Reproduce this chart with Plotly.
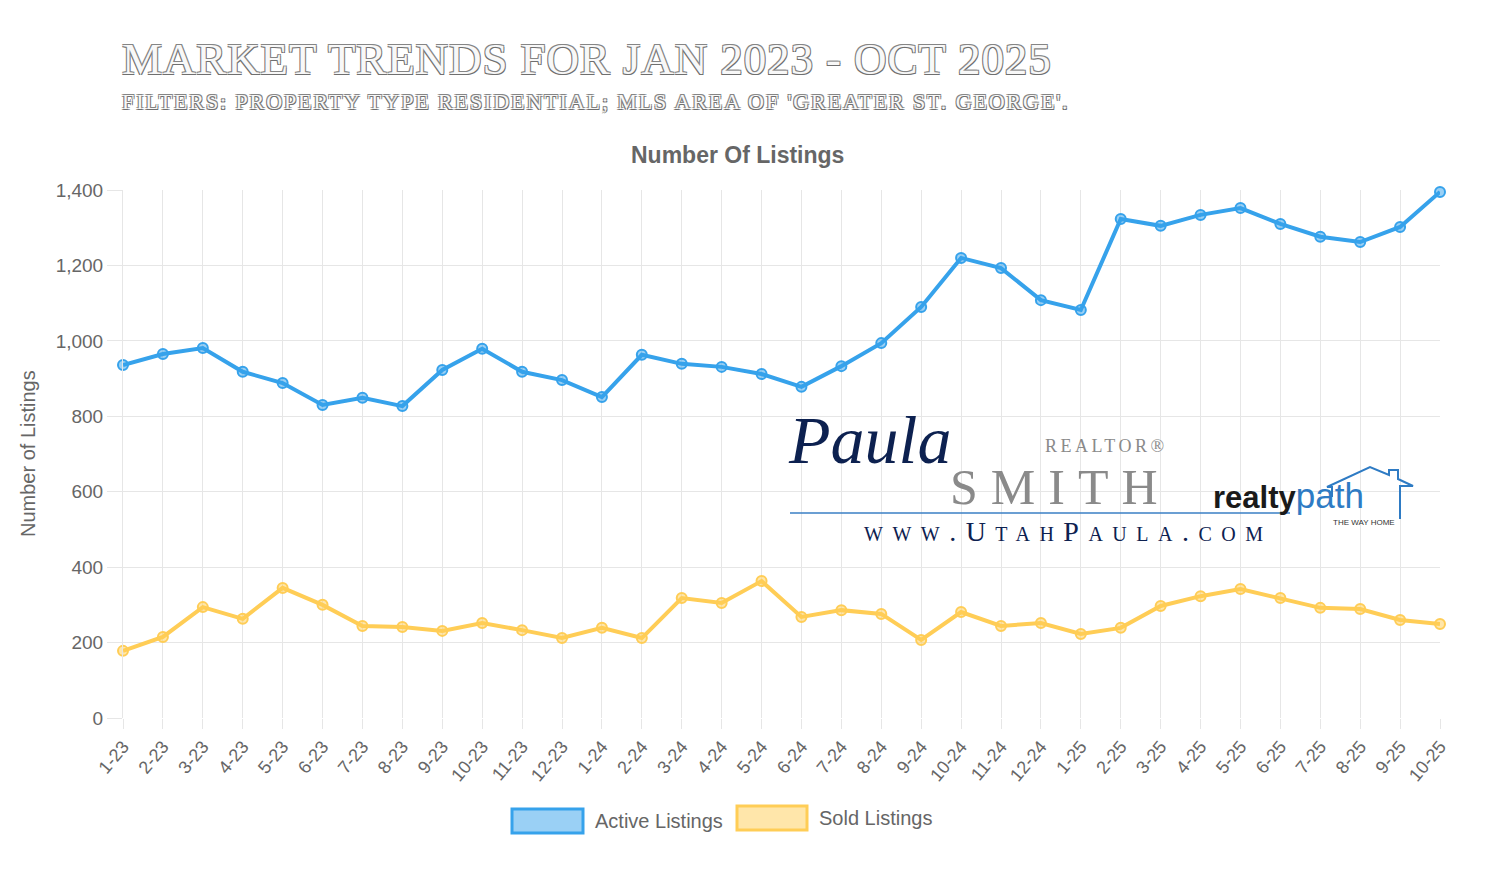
import plotly.graph_objects as go

months = ["1-23", "2-23", "3-23", "4-23", "5-23", "6-23", "7-23", "8-23", "9-23", "10-23",
          "11-23", "12-23", "1-24", "2-24", "3-24", "4-24", "5-24", "6-24", "7-24", "8-24",
          "9-24", "10-24", "11-24", "12-24", "1-25", "2-25", "3-25", "4-25", "5-25", "6-25",
          "7-25", "8-25", "9-25", "10-25"]

active_listings = [936, 965, 981, 918, 888, 830, 849, 827, 923, 979,
                   918, 896, 851, 963, 939, 931, 912, 878, 933, 994,
                   1090, 1220, 1193, 1108, 1082, 1323, 1305, 1334, 1352, 1310,
                   1276, 1262, 1302, 1395]

sold_listings = [178, 215, 294, 263, 345, 300, 244, 241, 231, 252,
                 233, 212, 239, 212, 318, 305, 363, 268, 286, 276,
                 207, 281, 244, 252, 223, 239, 297, 323, 342, 318,
                 292, 289, 260, 249]

y_ticks = [0, 200, 400, 600, 800, 1000, 1200, 1400]

BLUE = "rgb(54,162,235)"
BLUE_FILL = "rgba(54,162,235,0.5)"
YELLOW = "rgb(255,205,86)"
YELLOW_FILL = "rgba(255,205,86,0.5)"
GRID = "#e6e6e6"
TXT = "#666666"
NAVY = "#0d2150"
LOGO_BLUE = "#2e7bc4"

W, H = 1512, 869
L, R, T, B = 123, 1440, 190, 718


def px(x):
    return (x - L) / (R - L)


def py(y):
    return (B - y) / (B - T)


def spaced(text, px_spacing):
    return f"<span style='letter-spacing:{px_spacing}px'>{text}</span>"


fig = go.Figure()
fig.add_trace(go.Scatter(
    x=months, y=active_listings, name="Active Listings", mode="lines+markers",
    line=dict(color=BLUE, width=4),
    marker=dict(size=10, color=BLUE_FILL, line=dict(color=BLUE, width=2)),
    cliponaxis=False, showlegend=False))
fig.add_trace(go.Scatter(
    x=months, y=sold_listings, name="Sold Listings", mode="lines+markers",
    line=dict(color=YELLOW, width=4),
    marker=dict(size=10, color=YELLOW_FILL, line=dict(color=YELLOW, width=2)),
    cliponaxis=False, showlegend=False))

outline = "-1px -1px 0 #858585, 1px -1px 0 #858585, -1px 1px 0 #6f6f6f, 1px 1px 0 #6f6f6f"

ann = [
    dict(text=spaced("MARKET TRENDS FOR JAN 2023 - OCT 2025", 0.9), x=px(120), y=py(59),
         xanchor="left", yanchor="middle",
         font=dict(family="Liberation Serif", size=45, color="#f8f8f8", shadow=outline)),
    dict(text=spaced("FILTERS: PROPERTY TYPE RESIDENTIAL; MLS AREA OF 'GREATER ST. GEORGE'.", 1.9),
         x=px(120), y=py(102), xanchor="left", yanchor="middle",
         font=dict(family="Liberation Serif", size=22, color="#f8f8f8", shadow=outline)),
    dict(text="<b>Number Of Listings</b>", x=px(737), y=py(155), xanchor="center", yanchor="middle",
         font=dict(family="Liberation Sans", size=23, color=TXT)),
    dict(text="Number of Listings", x=px(28), y=0.5, xanchor="center", yanchor="middle", textangle=-90,
         font=dict(family="Liberation Sans", size=20, color=TXT)),
    # legend labels
    dict(text="Active Listings", x=px(593), y=py(821), xanchor="left", yanchor="middle",
         font=dict(family="Liberation Sans", size=20, color=TXT)),
    dict(text="Sold Listings", x=px(817), y=py(818), xanchor="left", yanchor="middle",
         font=dict(family="Liberation Sans", size=20, color=TXT)),
    # watermark logo
    dict(text="<i>Paula</i>", x=px(786), y=py(440), xanchor="left", yanchor="middle",
         font=dict(family="Liberation Serif", size=68, color=NAVY)),
    dict(text=spaced("REALTOR®", 3.5), x=px(1043), y=py(446), xanchor="left", yanchor="middle",
         font=dict(family="Liberation Serif", size=18, color="#8a8a8a")),
    dict(text=spaced("SMITH", 13), x=px(948), y=py(487), xanchor="left", yanchor="middle",
         font=dict(family="Liberation Serif", size=50, color="#8a8a8a")),
    dict(text=spaced("www.UtahPaula.com", 9.5), x=px(862), y=py(531), xanchor="left", yanchor="middle",
         font=dict(family="Liberation Serif", size=28, color=NAVY, variant="small-caps")),
    dict(text=f"<b>realty</b><span style='color:{LOGO_BLUE};font-size:35px'>path</span>", x=px(1211), y=py(495),
         xanchor="left", yanchor="middle",
         font=dict(family="Liberation Sans", size=31, color="#1a1a1a")),
    dict(text="THE WAY HOME", x=px(1331), y=py(522), xanchor="left", yanchor="middle",
         font=dict(family="Liberation Sans", size=8, color="#333")),
]

shapes = [
    dict(type="rect", xref="paper", yref="paper", x0=px(512), x1=px(583), y0=py(833), y1=py(809),
         fillcolor=BLUE_FILL, line=dict(color=BLUE, width=3)),
    dict(type="rect", xref="paper", yref="paper", x0=px(737), x1=px(807), y0=py(830), y1=py(806),
         fillcolor=YELLOW_FILL, line=dict(color=YELLOW, width=3)),
    dict(type="line", xref="paper", yref="paper", x0=px(790), x1=px(1290), y0=py(513), y1=py(513),
         line=dict(color="#3a7fc4", width=1.5)),
    dict(type="path", xref="paper", yref="paper",
         path=(f"M {px(1332)},{py(497)} L {px(1332)},{py(487)} L {px(1327)},{py(487)} "
               f"L {px(1370)},{py(467)} L {px(1389)},{py(475)} L {px(1389)},{py(470)} "
               f"L {px(1398)},{py(470)} L {px(1398)},{py(479)} L {px(1413)},{py(486)} "
               f"L {px(1400)},{py(486)} L {px(1400)},{py(519)}"),
         line=dict(color=LOGO_BLUE, width=2)),
]

fig.update_layout(
    width=W, height=H,
    margin=dict(l=L, r=W - R, t=T, b=H - B),
    paper_bgcolor="white", plot_bgcolor="white",
    annotations=[dict(a, xref="paper", yref="paper", showarrow=False) for a in ann],
    shapes=shapes,
    xaxis=dict(type="category", range=[0, len(months) - 1], showgrid=True, gridcolor=GRID, gridwidth=1,
               ticks="outside", ticklen=10, tickcolor=GRID, tickangle=-50,
               tickfont=dict(family="Liberation Sans", size=18, color=TXT),
               showline=False, zeroline=False, fixedrange=True),
    yaxis=dict(range=[0, 1400], tickvals=y_ticks, tickformat=",", showgrid=True, gridcolor=GRID, gridwidth=1,
               ticks="outside", ticklen=15, tickcolor=GRID,
               tickfont=dict(family="Liberation Sans", size=19, color=TXT),
               showline=True, linecolor=GRID, zeroline=False, fixedrange=True),
)

fig.write_html("out.html")
